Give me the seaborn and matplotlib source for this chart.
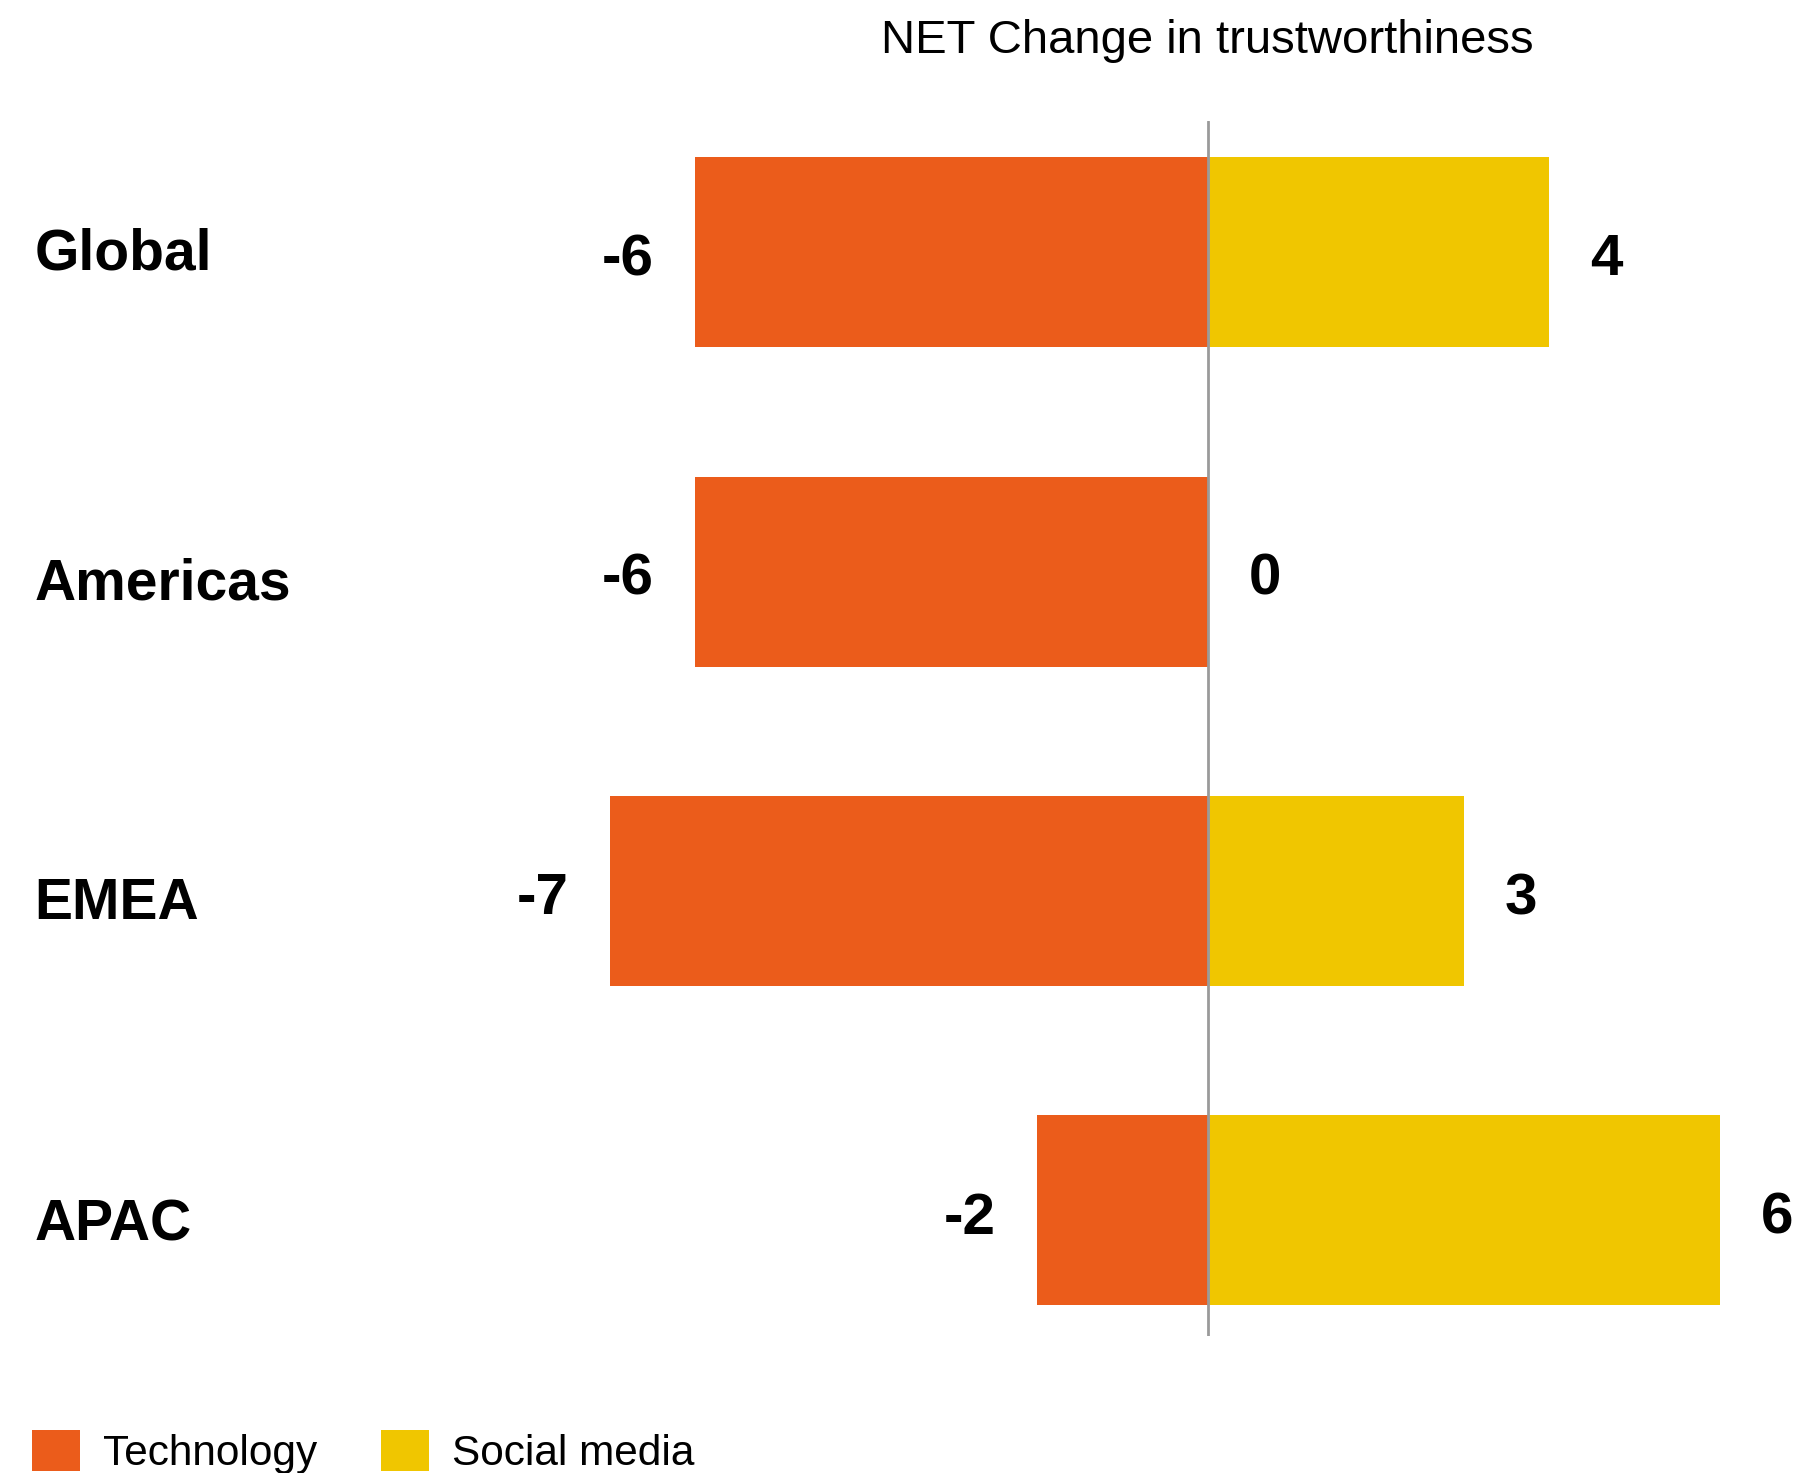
import matplotlib
matplotlib.use("Agg")
import matplotlib.pyplot as plt
import seaborn as sns
import pandas as pd
from matplotlib.patches import Patch
from matplotlib.transforms import blended_transform_factory, ScaledTranslation

regions = ["Global", "Americas", "EMEA", "APAC"]
series = ["Technology", "Social media"]
technology = [-6, -6, -7, -2]
social_media = [4, 0, 3, 6]
title = "NET Change in trustworthiness"

colors = {"Technology": "#EB5C1B", "Social media": "#F0C600"}

sns.set_theme(style="white")
plt.rcParams["font.family"] = ["Liberation Sans", "DejaVu Sans"]
plt.rcParams["text.color"] = "black"

df = pd.DataFrame({
    "region": regions * 2,
    "series": [series[0]] * len(regions) + [series[1]] * len(regions),
    "value": technology + social_media,
})

W, H = 1803, 1473
fig = plt.figure(figsize=(W / 100, H / 100), dpi=100)

zero_px = 1207.5
ppu = 85.4
ax_left_px, ax_right_px = 400, 1803
ax_top_px, ax_bot_px = 120.75, 1336.3
ax = fig.add_axes([ax_left_px / W, 1 - ax_bot_px / H,
                   (ax_right_px - ax_left_px) / W, (ax_bot_px - ax_top_px) / H])

sns.barplot(data=df, y="region", x="value", hue="series", order=regions,
            hue_order=series, palette=colors, dodge=False, width=0.595,
            orient="h", ax=ax, legend=False, saturation=1, linewidth=0)

ax.set_xlim((ax_left_px - zero_px) / ppu, (ax_right_px - zero_px) / ppu)
ax.set_ylim(3.394, -0.412)
ax.axvline(0, color="#9A9A9A", lw=2, zorder=5)

for c in ax.containers:
    labels = ax.bar_label(c, fmt="%d", padding=29.5, fontsize=42,
                          fontweight="bold", color="black")
    for t in labels:
        x_off, _ = t.xyann
        t.xyann = (x_off, -5.8)

ax.set_xlabel("")
ax.set_ylabel("")
ax.set_xticks([])
ax.set_yticks([])
for s in ax.spines.values():
    s.set_visible(False)

# category labels (small per-label vertical nudges in pixels)
label_nudge_px = [-4, 7, 7, 9]
trans = blended_transform_factory(fig.transFigure, ax.transData)
for i, (name, nudge) in enumerate(zip(regions, label_nudge_px)):
    off = ScaledTranslation(0, -nudge / 100, fig.dpi_scale_trans)
    ax.text(34.5 / W, i, name, transform=trans + off, ha="left",
            va="center_baseline", fontsize=41, fontweight="bold",
            color="black", clip_on=False)

fig.text(zero_px / W, 1 - 41 / H, title, ha="center", va="center",
         fontsize=34, color="black")

handles = [Patch(facecolor=colors[s], edgecolor="none", label=s) for s in series]
leg = fig.legend(handles=handles, loc="center left",
                 bbox_to_anchor=(32 / W, 1 - 1452 / H), ncol=2, frameon=False,
                 fontsize=30.5, handlelength=1.13, handleheight=1.13,
                 handletextpad=0.55, columnspacing=1.5, borderpad=0,
                 borderaxespad=0, labelcolor="black")

fig.savefig("out.png", dpi=100, facecolor="white")
